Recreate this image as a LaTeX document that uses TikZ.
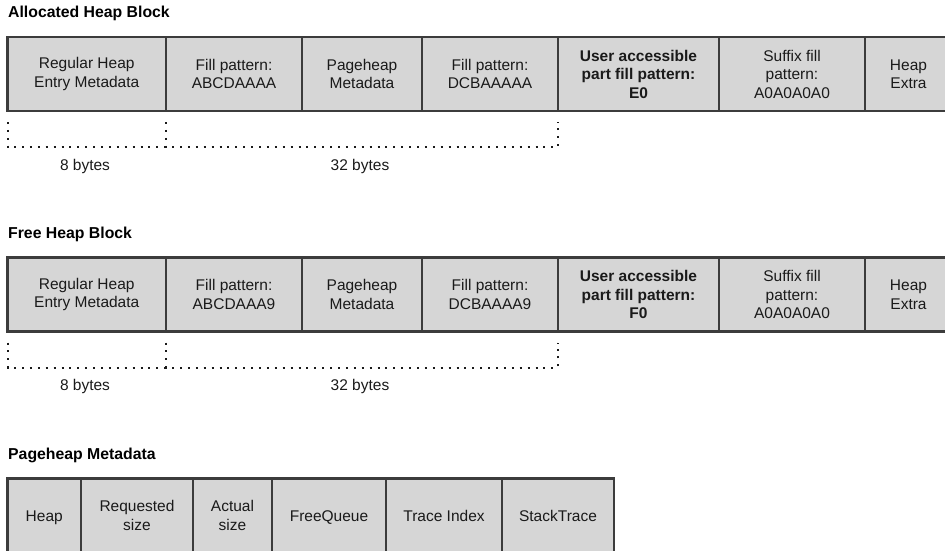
\documentclass[tikz,border=0pt]{standalone}
\usepackage{fontspec}
\setmainfont{Liberation Sans}
\usetikzlibrary{calc}
\definecolor{cellfill}{HTML}{D6D6D6}
\definecolor{cellline}{HTML}{3C3C3C}
\definecolor{inkcol}{HTML}{1A1A1A}
\begin{document}
\begin{tikzpicture}[x=1pt,y=-1pt,
  cell/.style={draw=cellline, fill=cellfill, line width=2.2pt, rectangle,
    anchor=north west, outer sep=0pt, inner sep=0pt, minimum height=74pt,
    align=center, text=inkcol, font=\fontsize{15.5}{18.5}\selectfont},
  oneline/.style={cell, text height=11.1pt, text depth=0pt},
  boldcell/.style={cell, font=\fontsize{15.5}{18.5}\selectfont\bfseries},
  title/.style={anchor=west, inner sep=0pt, text=black,
    font=\fontsize{15.8}{18}\selectfont\bfseries},
  sizelabel/.style={inner sep=0pt, text=inkcol, font=\fontsize{15.5}{18.5}\selectfont},
  span/.style={draw=inkcol, line width=2pt, dash pattern=on 2pt off 5.9pt}
]
\useasboundingbox (0,0) rectangle (945,551);
\clip (0,0) rectangle (945,551);

% ---------- Allocated heap block ----------
\node[title] (tA) at (8,13) {Allocated Heap Block};
\node[cell, minimum width=158.5pt] (a1) at (7.5,37) {Regular Heap\\Entry Metadata};
\node[cell, minimum width=136pt] (a2) at (a1.north east) {Fill pattern:\\ABCDAAAA};
\node[cell, minimum width=120pt] (a3) at (a2.north east) {Pageheap\\Metadata};
\node[cell, minimum width=136pt] (a4) at (a3.north east) {Fill pattern:\\DCBAAAAA};
\node[boldcell, minimum width=161pt] (a5) at (a4.north east) {User accessible\\part fill pattern:\\E0};
\node[cell, minimum width=146pt] (a6) at (a5.north east) {Suffix fill\\pattern:\\A0A0A0A0};
\node[cell, minimum width=87pt] (a7) at (a6.north east) {Heap\\Extra};

\coordinate (aL0) at ($(a1.south west)+(0,11)$);
\coordinate (aL1) at ($(a1.south west)+(0,36)$);
\coordinate (aM0) at ($(a2.south west)+(0,11)$);
\coordinate (aM1) at ($(a2.south west)+(0,36)$);
\coordinate (aR0) at ($(a5.south west)+(0,11)$);
\coordinate (aR1) at ($(a5.south west)+(0,36)$);
\draw[span] (aL0) -- (aL1) -- (aM1) -- (aR1) -- (aR0);
\draw[span] (aM0) -- (aM1);
\node[sizelabel] (a8b) at (85,166) {8 bytes};
\node[sizelabel] (a32b) at (360,166) {32 bytes};

% ---------- Free heap block ----------
\node[title] (tF) at (8,234) {Free Heap Block};
\node[cell, minimum width=158.5pt] (f1) at (7.5,257.5) {Regular Heap\\Entry Metadata};
\node[cell, minimum width=136pt] (f2) at (f1.north east) {Fill pattern:\\ABCDAAA9};
\node[cell, minimum width=120pt] (f3) at (f2.north east) {Pageheap\\Metadata};
\node[cell, minimum width=136pt] (f4) at (f3.north east) {Fill pattern:\\DCBAAAA9};
\node[boldcell, minimum width=161pt] (f5) at (f4.north east) {User accessible\\part fill pattern:\\F0};
\node[cell, minimum width=146pt] (f6) at (f5.north east) {Suffix fill\\pattern:\\A0A0A0A0};
\node[cell, minimum width=87pt] (f7) at (f6.north east) {Heap\\Extra};

\coordinate (fL0) at ($(f1.south west)+(0,11)$);
\coordinate (fL1) at ($(f1.south west)+(0,36)$);
\coordinate (fM0) at ($(f2.south west)+(0,11)$);
\coordinate (fM1) at ($(f2.south west)+(0,36)$);
\coordinate (fR0) at ($(f5.south west)+(0,11)$);
\coordinate (fR1) at ($(f5.south west)+(0,36)$);
\draw[span] (fL0) -- (fL1) -- (fM1) -- (fR1) -- (fR0);
\draw[span] (fM0) -- (fM1);
\node[sizelabel] (f8b) at (85,386) {8 bytes};
\node[sizelabel] (f32b) at (360,386) {32 bytes};

% ---------- Pageheap metadata ----------
\node[title] (tP) at (8,455) {Pageheap Metadata};
\node[oneline, minimum width=73.5pt] (p1) at (7.5,478.5) {Heap};
\node[cell, minimum width=112pt] (p2) at (p1.north east) {Requested\\size};
\node[cell, minimum width=79pt] (p3) at (p2.north east) {Actual\\size};
\node[oneline, minimum width=114pt] (p4) at (p3.north east) {FreeQueue};
\node[oneline, minimum width=116pt] (p5) at (p4.north east) {Trace Index};
\node[oneline, minimum width=112pt] (p6) at (p5.north east) {StackTrace};
\end{tikzpicture}
\end{document}
